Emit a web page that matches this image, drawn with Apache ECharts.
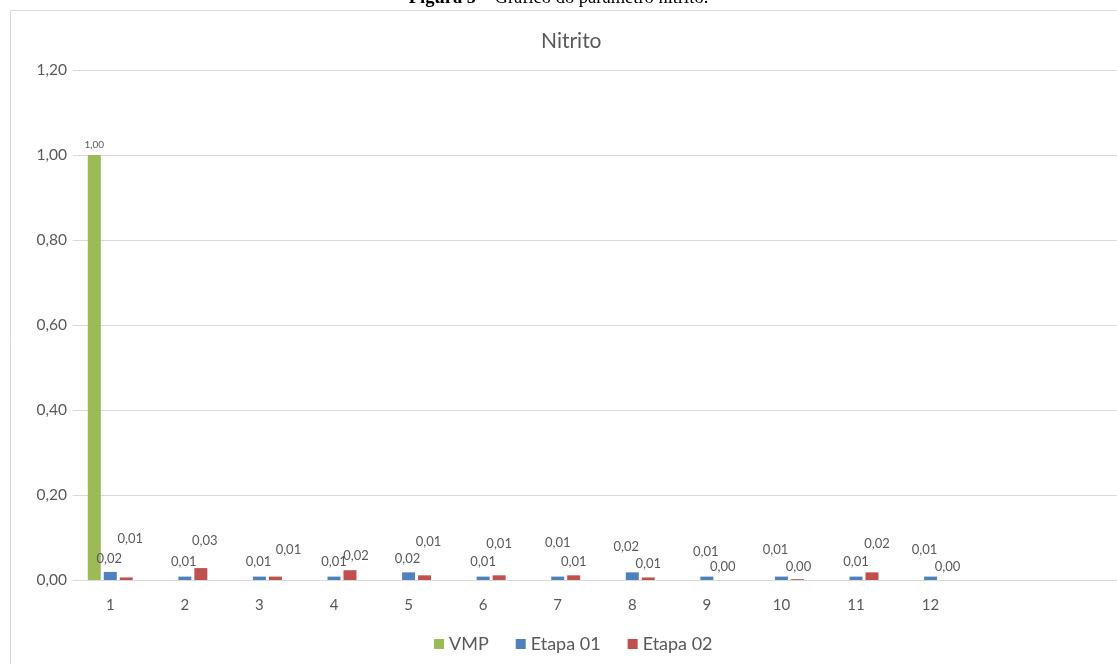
<!DOCTYPE html>
<html>
<head>
<meta charset="utf-8">
<script src="https://cdn.jsdelivr.net/npm/echarts@6/dist/echarts.min.js"></script>
<style>
  html, body { margin: 0; padding: 0; background: #ffffff; }
  #chart { width: 1117px; height: 664px; }
</style>
</head>
<body>
<div id="chart"></div>
<script>
// Sample points (two trailing empty slots keep the axis running to the frame edge)
const categories = ['1', '2', '3', '4', '5', '6', '7', '8', '9', '10', '11', '12', '', ''];
const vmp      = [1.00, null, null, null, null, null, null, null, null, null, null, null];
const etapa01  = [0.019, 0.008, 0.008, 0.008, 0.018, 0.008, 0.008, 0.018, 0.008, 0.008, 0.008, 0.008];
const etapa02  = [0.006, 0.028, 0.008, 0.023, 0.011, 0.011, 0.011, 0.006, 0.000, 0.002, 0.018, 0.000];
const yTicks   = [0, 0.2, 0.4, 0.6, 0.8, 1.0, 1.2];

// Label nudges (pixels) so the value labels sit clear of each other
const e1LabelShift = [[-1, -2], [-1, -3], [-1, -3], [0, -3], [-1, -2], [0, -3], [0, -22], [-6, -14], [-1, -13], [-6, -15], [0, -3], [-6, -15]];
const e2LabelShift = [[4, -27], [4, -16], [13, -15], [6, -3], [4, -22], [0, -20], [0, -2], [0, -2], [0, -2], [1, -1], [5, -17], [1, -2]];

const fmt = v => Number(v).toFixed(2).replace('.', ',');
const FONT = 'Lato, "Liberation Sans", sans-serif';
const TEXT = '#595959';
const LINE = '#d9d9d9';

function withShift(values, shifts) {
  return values.map((v, i) => ({ value: v, label: { offset: shifts[i] } }));
}

const chart = echarts.init(document.getElementById('chart'), null, { renderer: 'canvas' });

chart.setOption({
  animation: false,
  backgroundColor: '#ffffff',
  textStyle: { fontFamily: FONT },
  graphic: [
    {
      type: 'rect',
      shape: { x: 10.5, y: 10.5, width: 1120, height: 670 },
      style: { fill: 'none', stroke: LINE, lineWidth: 1 },
      silent: true
    },
    {
      type: 'text',
      left: 'center',
      top: -11,
      style: {
        text: '{b|Figura 5} – Gráfico do parâmetro nitrito.',
        font: '18.5px "Liberation Serif", serif',
        fill: '#000000',
        rich: { b: { font: 'bold 18.5px "Liberation Serif", serif', fill: '#000000' } }
      },
      silent: true
    }
  ],
  title: {
    text: 'Nitrito',
    left: 536,
    top: 26,
    textStyle: { fontFamily: FONT, fontSize: 21, fontWeight: 'normal', color: TEXT }
  },
  legend: {
    bottom: 6,
    left: 429,
    itemWidth: 10,
    itemHeight: 10,
    itemGap: 27,
    icon: 'rect',
    textStyle: { fontFamily: FONT, fontSize: 18, color: TEXT, padding: [0, 0, 0, 0] },
    data: ['VMP', 'Etapa 01', 'Etapa 02']
  },
  grid: { left: 73, right: -3, top: 70, bottom: 84, containLabel: false },
  xAxis: {
    type: 'category',
    data: categories,
    axisLine: { show: true, lineStyle: { color: LINE, width: 1 } },
    axisTick: { show: false },
    axisLabel: { color: TEXT, fontFamily: FONT, fontSize: 15, margin: 18 },
    splitLine: { show: false }
  },
  yAxis: {
    type: 'value',
    min: yTicks[0],
    max: yTicks[yTicks.length - 1],
    interval: yTicks[1] - yTicks[0],
    axisLine: { show: false },
    axisTick: { show: false },
    axisLabel: { color: TEXT, fontFamily: FONT, fontSize: 15.5, margin: 6, formatter: fmt },
    splitLine: { lineStyle: { color: LINE, width: 1 } }
  },
  series: [
    {
      name: 'VMP',
      type: 'bar',
      data: vmp,
      barWidth: 13,
      barGap: '23%',
      itemStyle: { color: '#9BBB59' },
      label: {
        show: true, position: 'top', distance: 5,
        fontFamily: FONT, fontSize: 10, color: TEXT,
        formatter: p => fmt(p.value)
      }
    },
    {
      name: 'Etapa 01',
      type: 'bar',
      data: withShift(etapa01, e1LabelShift),
      barWidth: 13,
      barGap: '23%',
      itemStyle: { color: '#4F81BD' },
      label: {
        show: true, position: 'top', distance: 5,
        fontFamily: FONT, fontSize: 13, color: TEXT,
        formatter: p => fmt(p.value)
      }
    },
    {
      name: 'Etapa 02',
      type: 'bar',
      data: withShift(etapa02, e2LabelShift),
      barWidth: 13,
      barGap: '23%',
      itemStyle: { color: '#C0504D' },
      label: {
        show: true, position: 'top', distance: 5,
        fontFamily: FONT, fontSize: 13, color: TEXT,
        formatter: p => fmt(p.value)
      }
    }
  ]
});
</script>
</body>
</html>
